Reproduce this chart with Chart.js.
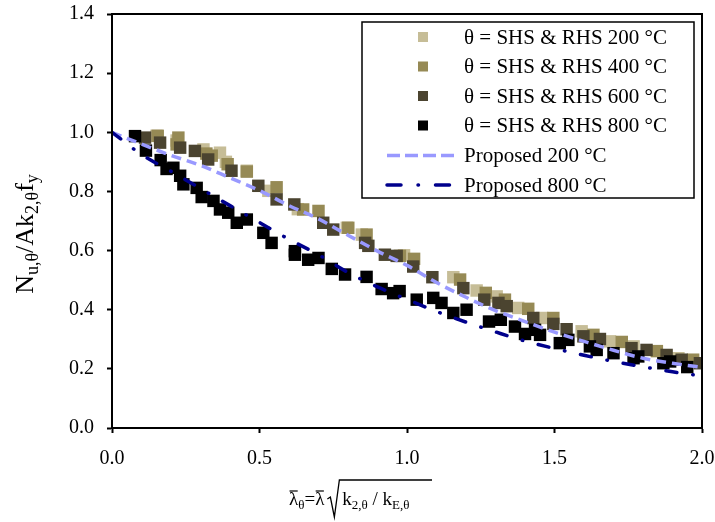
<!DOCTYPE html>
<html><head><meta charset="utf-8">
<script src="https://cdn.jsdelivr.net/npm/chart.js@4/dist/chart.umd.min.js"></script>
<style>html,body{margin:0;padding:0;background:#fff}#wrap{width:715px;height:522px;position:relative}</style>
</head><body><div id="wrap"><canvas id="c" width="715" height="522"></canvas></div>
<script>
// ---- data ----
const lam200 = [0.151,0.219,0.31,0.366,0.386,0.457,0.53,0.63,0.796,0.847,0.99,1.157,1.236,1.304,1.377,1.458,1.592,1.688,1.768,1.92];
const nu200  = [0.988,0.972,0.942,0.931,0.900,0.870,0.802,0.740,0.677,0.654,0.584,0.510,0.465,0.445,0.406,0.372,0.327,0.293,0.276,0.236];

const lam400 = [0.155,0.225,0.219,0.32,0.338,0.392,0.457,0.558,0.648,0.70,0.801,0.863,0.976,1.024,1.18,1.267,1.332,1.411,1.496,1.632,1.728,1.847,1.97];
const nu400  = [0.988,0.982,0.959,0.928,0.921,0.892,0.867,0.814,0.739,0.734,0.677,0.654,0.582,0.572,0.502,0.457,0.434,0.403,0.372,0.315,0.291,0.260,0.231];

const lam600 = [0.112,0.163,0.231,0.281,0.326,0.405,0.496,0.558,0.618,0.716,0.75,0.858,0.869,0.925,0.965,1.021,1.086,1.191,1.262,1.31,1.338,1.428,1.496,1.541,1.598,1.654,1.761,1.812,1.88,1.931,1.993];
const nu600  = [0.982,0.965,0.948,0.937,0.908,0.870,0.819,0.773,0.756,0.694,0.671,0.626,0.616,0.586,0.582,0.546,0.510,0.473,0.434,0.423,0.412,0.372,0.352,0.334,0.310,0.301,0.270,0.264,0.247,0.231,0.219];

const lam800 = [0.078,0.115,0.165,0.185,0.208,0.231,0.242,0.287,0.304,0.344,0.366,0.394,0.423,0.457,0.513,0.541,0.62,0.62,0.665,0.70,0.745,0.79,0.863,0.914,0.953,0.975,1.033,1.089,1.117,1.157,1.202,1.278,1.318,1.366,1.40,1.434,1.451,1.518,1.547,1.62,1.643,1.70,1.768,1.784,1.869,1.892,1.95];
const nu800  = [0.987,0.938,0.906,0.876,0.880,0.853,0.824,0.812,0.781,0.768,0.739,0.728,0.694,0.705,0.660,0.626,0.598,0.586,0.569,0.575,0.538,0.519,0.511,0.470,0.456,0.463,0.434,0.440,0.423,0.389,0.400,0.360,0.366,0.343,0.318,0.332,0.315,0.287,0.298,0.276,0.264,0.253,0.236,0.242,0.219,0.225,0.206];

const curveLam = [0,0.1,0.2,0.3,0.4,0.5,0.6,0.7,0.8,0.9,1.0,1.1,1.2,1.3,1.4,1.5,1.6,1.7,1.8,1.9,2.0];
const prop200  = [1.0,0.960,0.922,0.888,0.846,0.803,0.752,0.707,0.652,0.598,0.550,0.492,0.442,0.397,0.360,0.324,0.293,0.263,0.236,0.219,0.205];
const prop800  = [1.0,0.925,0.868,0.810,0.752,0.695,0.638,0.586,0.526,0.477,0.435,0.394,0.358,0.325,0.294,0.269,0.246,0.225,0.207,0.190,0.176];

const xTicks = [0.0,0.5,1.0,1.5,2.0];
const yTicks = [0.0,0.2,0.4,0.6,0.8,1.0,1.2,1.4];
const labels = ['θ = SHS & RHS 200 °C','θ = SHS & RHS 400 °C','θ = SHS & RHS 600 °C','θ = SHS & RHS 800 °C','Proposed 200 °C','Proposed 800 °C'];

const pts = (xs, ys) => xs.map((x, i) => ({x: x, y: ys[i]}));
const SERIF = '"Liberation Serif", "Times New Roman", serif';

function scatterSet(label, xs, ys, color, order) {
  return {label, data: pts(xs, ys), backgroundColor: color, borderColor: color, borderWidth: 0,
    pointStyle: 'rect', pointRadius: 8.8, pointHoverRadius: 8.8, showLine: false, order};
}
const datasets = [
  scatterSet(labels[0], lam200, nu200, '#c6bd97', 5),
  scatterSet(labels[1], lam400, nu400, '#968a55', 4),
  scatterSet(labels[2], lam600, nu600, '#4b4430', 3),
  scatterSet(labels[3], lam800, nu800, '#000000', 2),
  {label: labels[4], data: pts(curveLam, prop200), showLine: true, pointRadius: 0, borderColor: '#9999ff',
   borderWidth: 3.5, borderDash: [10, 6], cubicInterpolationMode: 'monotone', fill: false, order: 1},
  {label: labels[5], data: pts(curveLam, prop800), showLine: true, pointRadius: 0, borderColor: '#00008c',
   borderWidth: 3.5, borderDash: [11, 16, 0.5, 16], borderCapStyle: 'round', cubicInterpolationMode: 'monotone', fill: false, order: 0}
];

function drawPieces(ctx, pieces, x, y) {
  let cx = x;
  for (const p of pieces) {
    ctx.font = p[1] + 'px ' + SERIF;
    ctx.fillText(p[0], cx, y + (p[2] || 0));
    cx += ctx.measureText(p[0]).width;
  }
  return cx;
}
function piecesWidth(ctx, pieces) {
  let w = 0;
  for (const p of pieces) { ctx.font = p[1] + 'px ' + SERIF; w += ctx.measureText(p[0]).width; }
  return w;
}

const decor = {
  id: 'decor',
  afterDraw(chart) {
    const ctx = chart.ctx, a = chart.chartArea;
    ctx.save();
    ctx.strokeStyle = '#000'; ctx.lineWidth = 2;
    ctx.strokeRect(a.left, a.top, a.right - a.left, a.bottom - a.top);

    // legend
    const L = {x: 362, y: 22, w: 332, h: 176};
    ctx.fillStyle = '#fff';
    ctx.fillRect(L.x, L.y, L.w, L.h);
    ctx.lineWidth = 1.5; ctx.strokeStyle = '#000';
    ctx.strokeRect(L.x, L.y, L.w, L.h);
    const rows = [37, 66.5, 96, 125.5, 155.5, 185];
    ctx.textBaseline = 'middle'; ctx.textAlign = 'left';
    chart.data.datasets.forEach((ds, i) => {
      const ry = rows[i];
      if (ds.showLine) {
        ctx.save();
        ctx.strokeStyle = ds.borderColor; ctx.lineWidth = ds.borderWidth;
        ctx.setLineDash(i === 4 ? [13, 5] : [14, 17, 0.5, 17]);
        ctx.lineCap = i === 4 ? 'butt' : 'round';
        ctx.beginPath(); ctx.moveTo(387, ry); ctx.lineTo(458, ry); ctx.stroke();
        ctx.restore();
      } else {
        ctx.fillStyle = ds.backgroundColor;
        ctx.fillRect(418, ry - 5, 10, 10);
      }
      ctx.fillStyle = '#000';
      ctx.font = '21px ' + SERIF;
      ctx.fillText(ds.label, 464, ry + 1);
    });

    // y axis title (rotated)
    ctx.fillStyle = '#000';
    ctx.textBaseline = 'alphabetic';
    const yt = [['N', 26, 0], ['u,θ', 18, 5], ['/Ak', 26, 0], ['2,θ', 18, 5], ['f', 26, 0], ['y', 18, 5]];
    ctx.save();
    ctx.translate(33, 234);
    ctx.rotate(-Math.PI / 2);
    const yw = piecesWidth(ctx, yt);
    drawPieces(ctx, yt, -yw / 2, 0);
    ctx.restore();

    // x axis title
    ctx.lineWidth = 1.2; ctx.strokeStyle = '#000';
    let x = 289, base = 505;
    ctx.font = '19px ' + SERIF;
    const lw = ctx.measureText('λ').width;
    ctx.beginPath(); ctx.moveTo(x + 0.5, base - 14); ctx.lineTo(x + lw - 0.5, base - 14); ctx.stroke();
    x = drawPieces(ctx, [['λ', 19, 0], ['θ', 13, 4], ['=', 19, 0]], x, base);
    ctx.beginPath(); ctx.moveTo(x + 0.5, base - 14); ctx.lineTo(x + lw - 0.5, base - 14); ctx.stroke();
    x = drawPieces(ctx, [['λ', 19, 0]], x, base);
    x += 3;
    const rTop = 480;
    ctx.lineWidth = 1.3;
    ctx.beginPath();
    ctx.moveTo(x, base - 6); ctx.lineTo(x + 3, base - 8);
    ctx.lineTo(x + 7, base + 12); ctx.lineTo(x + 12, rTop); ctx.lineTo(432, rTop);
    ctx.stroke();
    x += 15;
    drawPieces(ctx, [['k', 19, 0], ['2,θ', 13, 4], [' / ', 19, 0], ['k', 19, 0], ['E,θ', 13, 4]], x, base);
    ctx.restore();
  }
};

const zeroPad = s => { s.paddingTop = 0; s.paddingBottom = 0; s.paddingLeft = 0; s.paddingRight = 0; };

new Chart(document.getElementById('c'), {
  type: 'scatter',
  data: {datasets},
  options: {
    responsive: false, animation: false, devicePixelRatio: 1,
    layout: {padding: {top: 14, right: 13, left: 0, bottom: 0}},
    plugins: {legend: {display: false}, tooltip: {enabled: false}},
    scales: {
      x: {type: 'linear', min: xTicks[0], max: xTicks[xTicks.length - 1],
          afterBuildTicks: s => { s.ticks = xTicks.map(v => ({value: v})); },
          afterFit: s => { s.height = 94; zeroPad(s); },
          ticks: {callback: v => Number(v).toFixed(1), color: '#000', font: {family: SERIF, size: 20}, padding: 14, maxRotation: 0},
          grid: {drawOnChartArea: false, drawTicks: true, tickLength: 5, tickColor: '#000', tickWidth: 2},
          border: {display: true, color: '#000', width: 2}},
      y: {type: 'linear', min: yTicks[0], max: yTicks[yTicks.length - 1],
          afterBuildTicks: s => { s.ticks = yTicks.map(v => ({value: v})); },
          afterFit: s => { s.width = 112; zeroPad(s); },
          ticks: {callback: v => Number(v).toFixed(1), color: '#000', font: {family: SERIF, size: 20}, padding: 13},
          grid: {drawOnChartArea: false, drawTicks: true, tickLength: 5, tickColor: '#000', tickWidth: 2},
          border: {display: true, color: '#000', width: 2}}
    }
  },
  plugins: [decor]
});
</script>
</body></html>
